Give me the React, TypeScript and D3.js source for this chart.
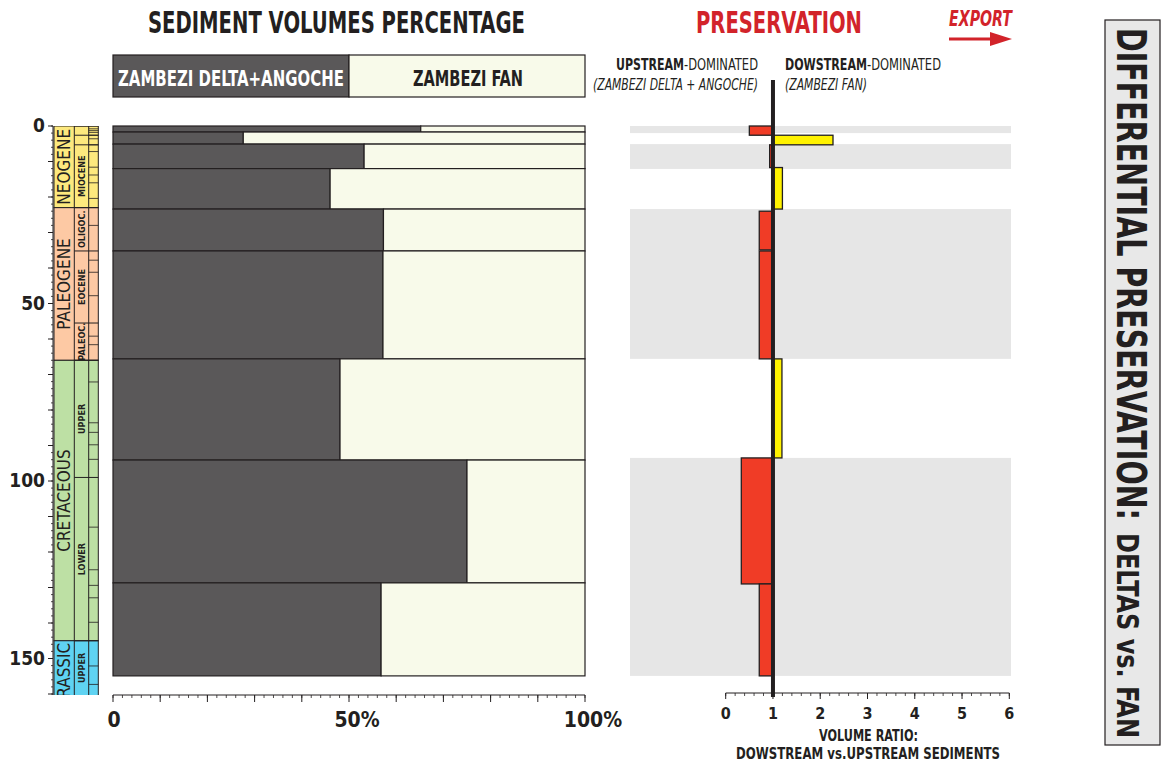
import React from 'react';
import * as d3 from 'd3';

// ---------- DATA ----------
// Sediment-volume intervals (age in Ma) and share of Zambezi Delta+Angoche (%)
const intervalTops = [0, 1.7, 5.1, 12.0, 23.4, 35.2, 65.6, 94.1, 128.7];
const intervalBases = [1.7, 5.1, 12.0, 23.4, 35.2, 65.6, 94.1, 128.7, 154.9];
const deltaPercent = [65.2, 27.6, 53.2, 46.0, 57.3, 57.2, 48.1, 75.0, 56.8];

// Volume ratio (downstream vs upstream)
const ratioTops = [0, 2.6, 5.3, 11.7, 24.0, 35.2, 65.6, 93.5, 129.0];
const ratioBases = [2.6, 5.3, 11.7, 23.4, 34.9, 65.6, 93.5, 129.0, 154.9];
const volumeRatio = [0.5, 2.27, 0.93, 1.2, 0.71, 0.71, 1.19, 0.33, 0.71];

// Upstream-dominated background bands
const bandTops = [0, 5.1, 23.4, 93.5];
const bandBases = [2.0, 12.1, 65.6, 154.9];

// Chronostratigraphy
const periodNames = ['NEOGENE', 'PALEOGENE', 'CRETACEOUS', 'JURASSIC'];
const periodTops = [0, 23, 66, 145];
const periodBases = [23, 66, 145, 165];
const periodColors = ['#fde97e', '#fdc9a4', '#bde0a4', '#5fd3f2'];

const epochNames = ['', '', 'MIOCENE', 'OLIGOC.', 'EOCENE', 'PALEOC.', 'UPPER', 'LOWER', 'UPPER'];
const epochTops = [0, 2.6, 5.3, 23, 35.2, 55.5, 66, 99, 145];
const epochBases = [2.6, 5.3, 23, 35.2, 55.5, 66, 99, 145, 165];

const stageBounds = [0.8, 1.3, 1.8, 2.6, 3.6, 5.3, 7.2, 11.6, 13.8, 16.0, 20.4, 28.0, 37.8, 41.2, 47.8, 59.2, 61.6,
  72.1, 83.6, 86.3, 89.8, 93.9, 113, 125, 129.4, 132.9, 139.8, 152.1, 157.3];

const ageTicks = [0, 50, 100, 150];
const pctTicks = [0, 50, 100];
const pctTickLabels = ['0', '50%', '100%'];
const ratioTicks = [0, 1, 2, 3, 4, 5, 6];

// ---------- STYLE ----------
const COND = "'Liberation Sans Narrow', 'DejaVu Sans Condensed', 'Roboto', 'Liberation Sans', sans-serif";
const INK = '#231f20';
const RED = '#d2232a';
const DARK = '#5a5859';
const LIGHT = '#f8faea';
const GREY_BAND = '#e6e6e6';
const BAR_RED = '#f03c26';
const BAR_YELLOW = '#fff200';

const yAge = d3.scaleLinear().domain([0, 150]).range([126, 658.5]);
const xPct = d3.scaleLinear().domain([0, 100]).range([113, 585]);
const xRatio = d3.scaleLinear().domain([0, 6]).range([725.7, 1009.3]);

const COL_L = 54, COL_E = 74.3, COL_S = 88.7, COL_R = 98.3;
const AXIS_BOTTOM = 695;

function fit(w?: number) {
  return w ? { textLength: w, lengthAdjust: 'spacingAndGlyphs' } : {};
}

function T(props: any) {
  const { children, w, ...rest } = props;
  return (
    <text fontFamily={COND} fill={INK} {...rest} {...fit(w)}>
      {children}
    </text>
  );
}

export default function App() {
  const ageMinor = d3.range(0, 161, 2);
  const ageMid = d3.range(0, 161, 10);
  const pctMinor = d3.range(0, 101, 2);
  const pctMajor = d3.range(0, 101, 10);
  const ratioMinor = d3.range(0, 6.001, 0.2);

  return (
    <svg width={1164} height={767} style={{ position: 'absolute', left: 0, top: 0, background: '#fff' }}>
      <defs>
        <clipPath id="colclip">
          <rect x={40} y={yAge(0)} width={70} height={AXIS_BOTTOM - yAge(0)} />
        </clipPath>
      </defs>

      {/* ---------- TITLES ---------- */}
      <T x={148} y={33} fontSize={31} fontWeight={700} w={377}>SEDIMENT VOLUMES PERCENTAGE</T>
      <T x={696} y={33} fontSize={31} fontWeight={700} fill={RED} w={166}>PRESERVATION</T>
      <T x={949} y={26} fontSize={21} fontWeight={700} fontStyle="italic" fill={RED} w={63}>EXPORT</T>
      <line x1={949} y1={39} x2={994} y2={39} stroke={RED} strokeWidth={3} />
      <path d="M990,32 L1012,39 L990,46 Z" fill={RED} />

      {/* ---------- LEGEND ---------- */}
      <rect x={xPct(0)} y={55} width={xPct(50) - xPct(0)} height={42} fill={DARK} stroke={INK} strokeWidth={1.2} />
      <rect x={xPct(50)} y={55} width={xPct(100) - xPct(50)} height={42} fill={LIGHT} stroke={INK} strokeWidth={1.2} />
      <T x={118} y={86} fontSize={21} fontWeight={700} fill="#ffffff" w={226}>ZAMBEZI DELTA+ANGOCHE</T>
      <T x={413} y={86} fontSize={21} fontWeight={700} w={110}>ZAMBEZI FAN</T>

      {/* ---------- GEOLOGICAL COLUMN ---------- */}
      <g clipPath="url(#colclip)">
        {periodNames.map((p, i) => (
          <rect key={p} x={COL_L} y={yAge(periodTops[i])} width={COL_R - COL_L} height={yAge(periodBases[i]) - yAge(periodTops[i])}
            fill={periodColors[i]} stroke={INK} strokeWidth={1} />
        ))}
        {epochNames.map((e, i) => (
          <line key={'el' + i} x1={COL_E} x2={COL_R} y1={yAge(epochTops[i])} y2={yAge(epochTops[i])} stroke={INK} strokeWidth={1} />
        ))}
        {stageBounds.map((s, i) => (
          <line key={'sl' + i} x1={COL_S} x2={COL_R} y1={yAge(s)} y2={yAge(s)} stroke={INK} strokeWidth={0.8} />
        ))}
        <line x1={COL_E} x2={COL_E} y1={yAge(0)} y2={AXIS_BOTTOM} stroke={INK} strokeWidth={1} />
        <line x1={COL_S} x2={COL_S} y1={yAge(0)} y2={AXIS_BOTTOM} stroke={INK} strokeWidth={1} />
        {periodNames.map((p, i) => {
          const last = i === periodNames.length - 1;
          const yc = last ? yAge(periodTops[i]) + 2 : (yAge(periodTops[i]) + yAge(periodBases[i])) / 2;
          return (
            <T key={'pt' + p} transform={`translate(${(COL_L + COL_E) / 2 + 6},${yc}) rotate(-90)`} fontSize={17}
              textAnchor={last ? 'end' : 'middle'}>{p}</T>
          );
        })}
        {epochNames.map((e, i) => e ? (
          <T key={'et' + i} transform={`translate(${(COL_E + COL_S) / 2 + 3.5},${(yAge(epochTops[i]) + Math.min(yAge(epochBases[i]), AXIS_BOTTOM)) / 2}) rotate(-90)`}
            fontSize={9} fontWeight={700} textAnchor="middle">{e}</T>
        ) : null)}
      </g>

      {/* age axis */}
      <line x1={53} x2={53} y1={yAge(0)} y2={AXIS_BOTTOM} stroke={INK} strokeWidth={1} />
      {ageMinor.filter(a => yAge(a) <= AXIS_BOTTOM).map(a => (
        <line key={'am' + a} x1={51} x2={53} y1={yAge(a)} y2={yAge(a)} stroke={INK} strokeWidth={0.8} />
      ))}
      {ageMid.filter(a => yAge(a) <= AXIS_BOTTOM).map(a => (
        <line key={'ad' + a} x1={48} x2={53} y1={yAge(a)} y2={yAge(a)} stroke={INK} strokeWidth={1} />
      ))}
      {ageTicks.map(a => (
        <T key={'at' + a} x={45} y={yAge(a) + 6} fontSize={19} fontWeight={700} textAnchor="end">{a}</T>
      ))}

      {/* ---------- SEDIMENT VOLUME BARS ---------- */}
      {deltaPercent.map((d, i) => {
        const y0 = yAge(intervalTops[i]);
        const y1 = yAge(intervalBases[i]);
        return (
          <g key={'bar' + i}>
            <rect x={xPct(0)} y={y0} width={xPct(d) - xPct(0)} height={y1 - y0} fill={DARK} stroke={INK} strokeWidth={1.2} />
            <rect x={xPct(d)} y={y0} width={xPct(100) - xPct(d)} height={y1 - y0} fill={LIGHT} stroke={INK} strokeWidth={1.2} />
          </g>
        );
      })}

      {/* percentage axis */}
      <line x1={xPct(0)} x2={xPct(100)} y1={AXIS_BOTTOM} y2={AXIS_BOTTOM} stroke={INK} strokeWidth={1} />
      {pctMinor.map(p => (
        <line key={'pm' + p} x1={xPct(p)} x2={xPct(p)} y1={AXIS_BOTTOM} y2={AXIS_BOTTOM + 3} stroke={INK} strokeWidth={0.8} />
      ))}
      {pctMajor.map(p => (
        <line key={'pM' + p} x1={xPct(p)} x2={xPct(p)} y1={AXIS_BOTTOM} y2={AXIS_BOTTOM + 7} stroke={INK} strokeWidth={1} />
      ))}
      {pctTicks.map((p, i) => (
        <T key={'pt' + p} x={xPct(p) + (i === 0 ? 1 : 8)} y={727} fontSize={21} fontWeight={700} textAnchor="middle">{pctTickLabels[i]}</T>
      ))}

      {/* ---------- PRESERVATION PANEL ---------- */}
      {bandTops.map((t, i) => (
        <rect key={'band' + i} x={630} y={yAge(t)} width={381} height={yAge(bandBases[i]) - yAge(t)} fill={GREY_BAND} />
      ))}
      {volumeRatio.map((r, i) => {
        const y0 = yAge(ratioTops[i]);
        const y1 = yAge(ratioBases[i]);
        const xa = xRatio(Math.min(r, 1));
        const xb = xRatio(Math.max(r, 1));
        return (
          <rect key={'rb' + i} x={xa} y={y0} width={xb - xa} height={y1 - y0}
            fill={r < 1 ? BAR_RED : BAR_YELLOW} stroke={INK} strokeWidth={1.3} />
        );
      })}
      <line x1={xRatio(1)} x2={xRatio(1)} y1={80} y2={AXIS_BOTTOM + 2} stroke={INK} strokeWidth={4} />

      {/* ratio axis */}
      <line x1={xRatio(0)} x2={xRatio(6)} y1={693} y2={693} stroke={INK} strokeWidth={1} />
      {ratioMinor.map((r, i) => (
        <line key={'rm' + i} x1={xRatio(r)} x2={xRatio(r)} y1={693} y2={696} stroke={INK} strokeWidth={0.8} />
      ))}
      {ratioTicks.map(r => (
        <line key={'rM' + r} x1={xRatio(r)} x2={xRatio(r)} y1={693} y2={699} stroke={INK} strokeWidth={1} />
      ))}
      {ratioTicks.map(r => (
        <T key={'rt' + r} x={xRatio(r)} y={719} fontSize={16} fontWeight={700} textAnchor="middle">{r}</T>
      ))}
      <T x={819} y={741} fontSize={16} fontWeight={700} w={99}>VOLUME RATIO:</T>
      <T x={736} y={759} fontSize={16} fontWeight={700} w={264}>DOWSTREAM vs.UPSTREAM SEDIMENTS</T>

      {/* panel headers */}
      <text x={616} y={70} fontFamily={COND} fill={INK} fontSize={15}>
        <tspan fontWeight={700} {...fit(68)}>UPSTREAM</tspan>
        <tspan {...fit(74)}>-DOMINATED</tspan>
      </text>
      <T x={593} y={90} fontSize={15} fontStyle="italic" w={165}>(ZAMBEZI DELTA + ANGOCHE)</T>
      <text x={785} y={70} fontFamily={COND} fill={INK} fontSize={15}>
        <tspan fontWeight={700} {...fit(82)}>DOWSTREAM</tspan>
        <tspan {...fit(74)}>-DOMINATED</tspan>
      </text>
      <T x={785} y={90} fontSize={15} fontStyle="italic" w={82}>(ZAMBEZI FAN)</T>

      {/* ---------- SIDE TITLE ---------- */}
      <rect x={1105} y={20} width={55} height={725} fill="#e8e8e8" stroke={INK} strokeWidth={1.2} />
      <T transform="translate(1117,28) rotate(90)" fontSize={40} fontWeight={700} w={492}>DIFFERENTIAL PRESERVATION:</T>
      <T transform="translate(1117,533) rotate(90)" fontSize={31} fontWeight={700} w={205}>DELTAS vs. FAN</T>
    </svg>
  );
}
